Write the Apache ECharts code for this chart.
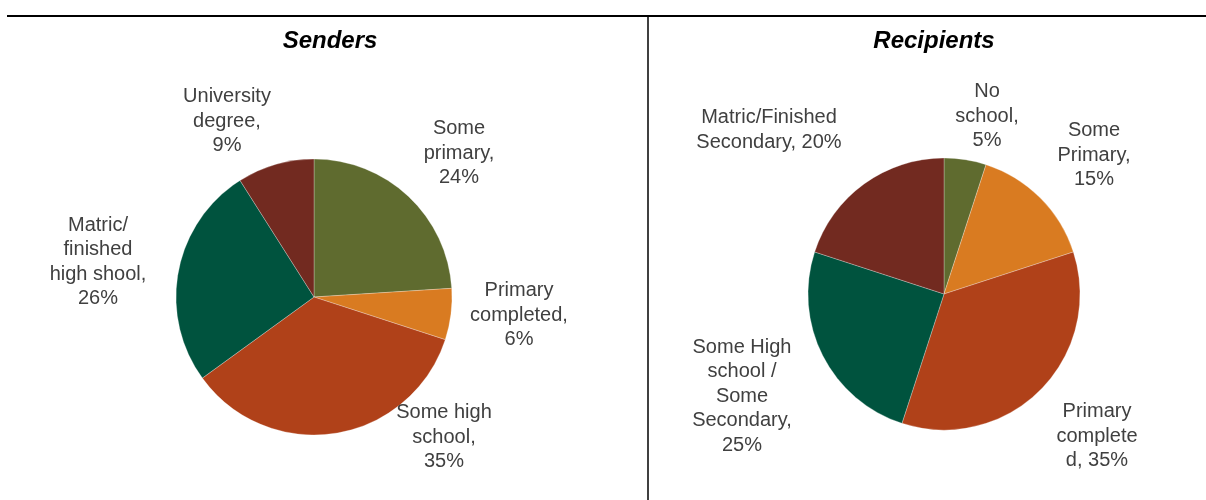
<!DOCTYPE html>
<html>
<head>
<meta charset="utf-8">
<script src="https://cdn.jsdelivr.net/npm/echarts@6/dist/echarts.min.js"></script>
<style>
  html, body { margin: 0; padding: 0; background: #fff; }
  #chart { width: 1206px; height: 500px; }
</style>
</head>
<body>
<div id="chart"></div>
<script>
// Education level of senders and recipients (percent of respondents)
const senderCategories = ['Some primary', 'Primary completed', 'Some high school', 'Matric/finished high shool', 'University degree'];
const senderValues = [24, 6, 35, 26, 9];
const senderLabelText = ['Some\nprimary,\n{c}%', 'Primary\ncompleted,\n{c}%', 'Some high\nschool,\n{c}%', 'Matric/\nfinished\nhigh shool,\n{c}%', 'University\ndegree,\n{c}%'];

const recipientCategories = ['No school', 'Some Primary', 'Primary completed', 'Some High school / Some Secondary', 'Matric/Finished Secondary'];
const recipientValues = [5, 15, 35, 25, 20];
const recipientLabelText = ['No\nschool,\n{c}%', 'Some\nPrimary,\n{c}%', 'Primary\ncomplete\nd, {c}%', 'Some High\nschool /\nSome\nSecondary,\n{c}%', 'Matric/Finished\nSecondary, {c}%'];

const sliceColors = ['#5F6B2F', '#D97B21', '#B04119', '#00533E', '#722A20'];

// Label anchor points (centre of each text block) for the two pies
const senderLabelPos = [[459, 153], [519, 315], [444, 437], [98, 262], [227, 121]];
const recipientLabelPos = [[987, 116], [1094, 155], [1097, 436], [742, 396], [769, 130]];

function buildData(cats, vals, texts) {
  return cats.map((name, i) => ({
    name: name,
    value: vals[i],
    itemStyle: { color: sliceColors[i] },
    label: { formatter: texts[i] }
  }));
}

function pieSeries(center, radius, data, positions) {
  return {
    type: 'pie',
    center: center,
    radius: radius,
    startAngle: 90,
    clockwise: true,
    silent: true,
    animation: false,
    data: data,
    itemStyle: { borderColor: 'rgba(255,255,255,0.45)', borderWidth: 0.6 },
    label: {
      show: true,
      position: 'outside',
      color: '#404040',
      fontFamily: 'Liberation Sans, Arial, sans-serif',
      fontSize: 20,
      lineHeight: 24.5,
      align: 'center'
    },
    labelLine: { show: false },
    labelLayout: function (p) {
      const pos = positions[p.dataIndex];
      return { x: pos[0], y: pos[1], align: 'center', verticalAlign: 'middle' };
    }
  };
}

const chart = echarts.init(document.getElementById('chart'), null, { renderer: 'canvas' });

chart.setOption({
  backgroundColor: '#ffffff',
  animation: false,
  title: [
    {
      text: 'Senders', left: 325, top: 36, textAlign: 'center', textVerticalAlign: 'middle',
      textStyle: { fontFamily: 'Liberation Sans, Arial, sans-serif', fontSize: 24, fontWeight: 'bold', fontStyle: 'italic', color: '#000' }
    },
    {
      text: 'Recipients', left: 929, top: 36, textAlign: 'center', textVerticalAlign: 'middle',
      textStyle: { fontFamily: 'Liberation Sans, Arial, sans-serif', fontSize: 24, fontWeight: 'bold', fontStyle: 'italic', color: '#000' }
    }
  ],
  graphic: [
    { type: 'line', shape: { x1: 7, y1: 16, x2: 1206, y2: 16 }, style: { stroke: '#000', lineWidth: 2 }, silent: true },
    { type: 'line', shape: { x1: 648, y1: 16, x2: 648, y2: 500 }, style: { stroke: '#000', lineWidth: 1.5 }, silent: true }
  ],
  series: [
    pieSeries([314, 297], 138, buildData(senderCategories, senderValues, senderLabelText), senderLabelPos),
    pieSeries([944, 294], 136, buildData(recipientCategories, recipientValues, recipientLabelText), recipientLabelPos)
  ]
});
</script>
</body>
</html>
